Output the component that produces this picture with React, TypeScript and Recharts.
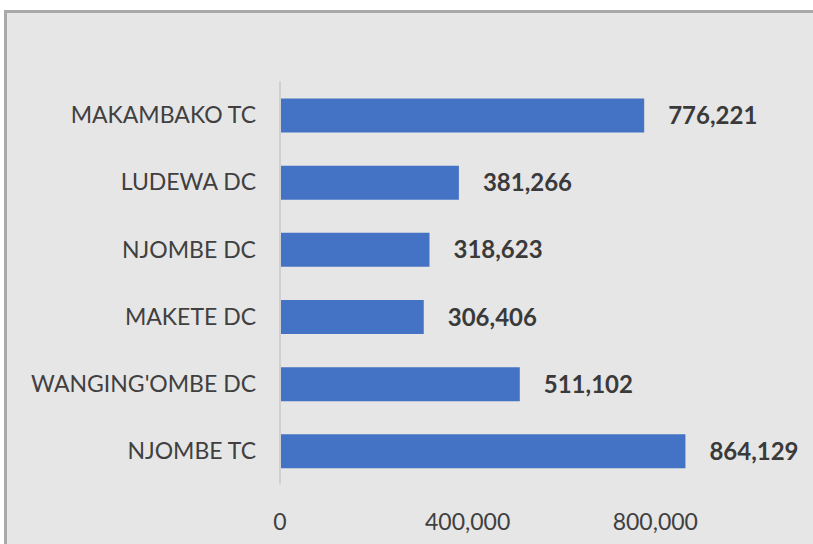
import React from "react";
import { BarChart, Bar, XAxis, YAxis, LabelList } from "recharts";

const categories = ["MAKAMBAKO TC", "LUDEWA DC", "NJOMBE DC", "MAKETE DC", "WANGING'OMBE DC", "NJOMBE TC"];
const population = [776221, 381266, 318623, 306406, 511102, 864129];
const xTicks = [0, 400000, 800000];

const data = categories.map((name, i) => ({ name, value: population[i] }));

const FONT = "Lato, 'Open Sans', sans-serif";

export default function App() {
  return (
    <div style={{ position: "absolute", left: 0, top: 0, width: 813, height: 544, overflow: "hidden", background: "#ffffff" }}>
      <div
        style={{
          position: "absolute",
          left: 4,
          top: 10,
          width: 900,
          height: 600,
          background: "#e6e6e6",
          borderLeft: "3px solid #a9a9a9",
          borderTop: "3px solid #a9a9a9",
          boxSizing: "border-box",
        }}
      />
      <div style={{ position: "absolute", left: 0, top: 0 }}>
        <BarChart
          width={900}
          height={600}
          data={data}
          layout="vertical"
          margin={{ top: 81.5, right: 57, bottom: 75.5, left: 0 }}
          barSize={34}
        >
          <XAxis
            type="number"
            domain={[0, 1200000]}
            ticks={xTicks}
            allowDataOverflow
            axisLine={false}
            tickLine={false}
            tickSize={0}
            tickMargin={29}
            height={40}
            tickFormatter={(v: number) => v.toLocaleString("en-US")}
            tick={{ fill: "#404040", fontSize: 23, fontFamily: FONT }}
          />
          <YAxis
            type="category"
            dataKey="name"
            width={280}
            axisLine={{ stroke: "#d0d0d0", strokeWidth: 2 }}
            tickLine={false}
            tickSize={0}
            tickMargin={24}
            interval={0}
            tick={{ fill: "#404040", fontSize: 23, fontFamily: FONT }}
          />
          <Bar dataKey="value" fill="#4472c4" isAnimationActive={false}>
            <LabelList
              dataKey="value"
              position="right"
              offset={24}
              formatter={(v: number) => v.toLocaleString("en-US")}
              style={{ fill: "#3a3a3a", fontSize: 24, fontWeight: 700, fontFamily: FONT }}
            />
          </Bar>
        </BarChart>
      </div>
    </div>
  );
}
